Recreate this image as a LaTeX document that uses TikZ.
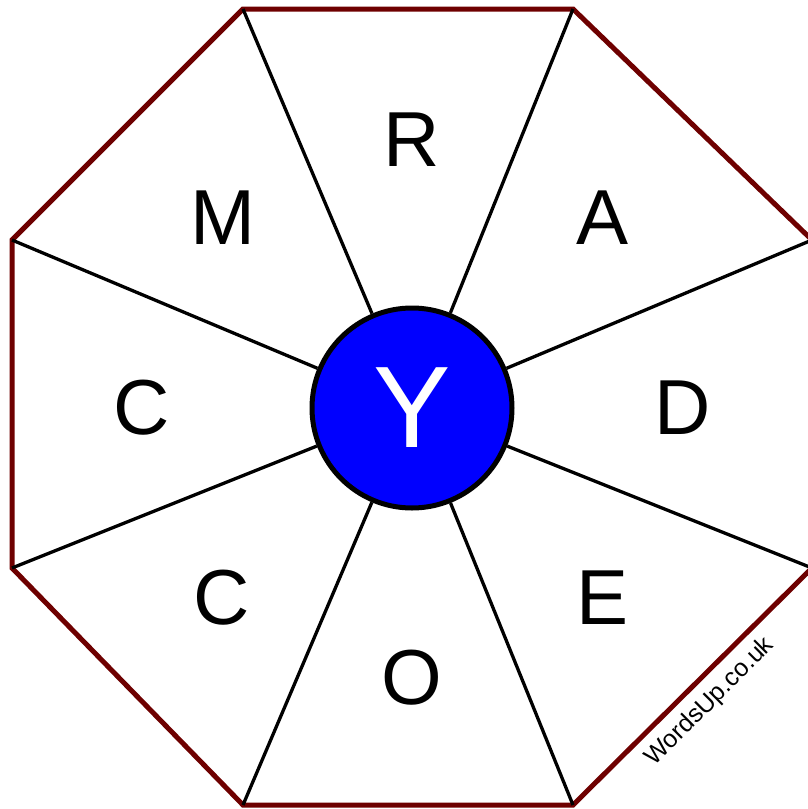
\documentclass[tikz,border=0pt]{standalone}
\usepackage{fontspec}
\setmainfont{Liberation Sans}
\definecolor{rimred}{RGB}{110,0,0}
\begin{document}
\begin{tikzpicture}[x=1pt,y=-1pt,
  letter/.style={font=\fontsize{78}{80}\selectfont},
  spoke/.style={line width=3.3pt}]
  \useasboundingbox (0,0) rectangle (808,809);
  \clip (0,0) rectangle (808,809);
  % octagon corners
  \coordinate (v1) at (243,9);
  \coordinate (v2) at (573,9);
  \coordinate (v3) at (812,240);
  \coordinate (v4) at (812,568);
  \coordinate (v5) at (573,805);
  \coordinate (v6) at (243,805);
  \coordinate (v7) at (12,568);
  \coordinate (v8) at (12,240);
  \draw[rimred, line width=5pt] (v1) -- (v2) -- (v3) -- (v4) -- (v5) -- (v6) -- (v7) -- (v8) -- cycle;
  \node[circle, draw, line width=5pt, fill=blue, minimum size=200pt, inner sep=0pt,
    text=white, font=\fontsize{116}{120}\selectfont] (hub) at (412,408) {Y};
  \foreach \v in {v1,v2,v3,v4,v5,v6,v7,v8}
    \draw[spoke] (hub) -- (\v);
  % letters
  \node[letter] (lR) at (412,140) {R};
  \node[letter] (lA) at (603,218) {A};
  \node[letter] (lD) at (683,408) {D};
  \node[letter] (lE) at (603,598) {E};
  \node[letter] (lO) at (412,678) {O};
  \node[letter] (lC2) at (222,598) {C};
  \node[letter] (lC1) at (142,408) {C};
  \node[letter] (lM) at (223,218) {M};
  \node[rotate=45, font=\fontsize{25}{28}\selectfont] (mark) at (710,702) {WordsUp.co.uk};
\end{tikzpicture}
\end{document}
